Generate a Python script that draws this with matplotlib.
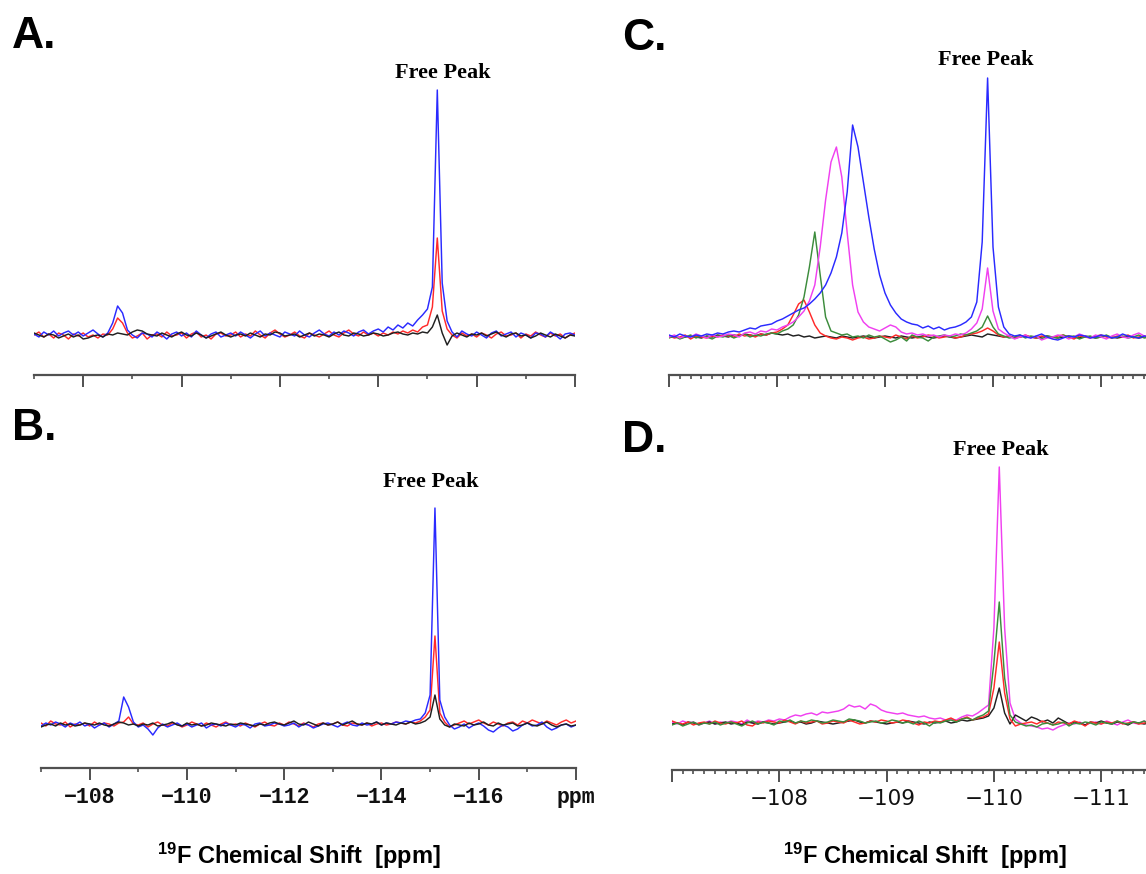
import numpy as np
import matplotlib
matplotlib.use("Agg")
import matplotlib.pyplot as plt
from matplotlib.ticker import MultipleLocator, FixedLocator, FixedFormatter

plt.rcParams['mathtext.fontset'] = 'custom'
plt.rcParams['mathtext.rm'] = 'Liberation Sans:bold'
plt.rcParams['mathtext.it'] = 'Liberation Sans:bold'
plt.rcParams['mathtext.bf'] = 'Liberation Sans:bold'

# Chemical-shift sampling (ppm): panels A/B every 0.1 ppm, panels C/D every 0.05 ppm
ppm_ab = np.round(-107.0 - 0.1 * np.arange(111), 2)
ppm_cd = np.round(-107.0 - 0.05 * np.arange(90), 2)

# ---- Panel A intensities (arbitrary units) ----
a_blue = [1, -2, 3, 0, 4, -1, 2, 4, 0, 3,
          -1, 2, 5, 1, -2, 2, 12, 29, 22, 5,
          0, -3, 2, 1, -2, 3, 0, -4, 1, 3,
          -1, 2, -2, 4, 0, -3, 1, 3, -2, 0,
          2, -1, 3, 0, -3, 1, 4, -1, 2, 0,
          -2, 3, 1, -1, 4, 0, -2, 2, 5, 1,
          -1, 3, 0, 4, 2, -1, 3, 5, 1, 4,
          6, 3, 8, 5, 10, 7, 12, 9, 15, 20,
          26, 48, 245, 52, 14, 3, -2, 4, 1, -1,
          3, 0, -3, 2, 4, -1, 1, 3, -2, 2,
          0, -3, 2, 1, -2, 3, 0, -4, 1, 2, 0]
a_red = [0, 3, -2, 1, -3, 2, 0, -4, 1, -1,
         2, -2, 0, -3, 1, 0, 6, 17, 12, 2,
         -3, -1, 2, -4, 0, 1, -2, 3, -1, 0,
         2, -3, 1, 3, -2, 0, -4, 1, 2, -1,
         0, 3, -2, 1, -1, 4, 0, -3, 2, 5,
         1, -2, 0, 3, -1, -3, 2, 0, -2, 1,
         4, 0, -2, 2, 5, 1, -1, 3, 0, 2,
         -1, 2, 0, 3, 1, 4, 2, 5, 3, 8,
         10, 28, 97, 24, 6, 0, -3, 2, -1, 1,
         -2, 2, 0, -3, 1, 3, -1, 0, 2, -3,
         1, -1, 3, 0, -2, 2, -1, 1, -3, 0, 2]
a_black = [2, 0, -2, 1, 0, -3, -1, 1, -2, 0,
           -4, -3, -1, 0, -2, 1, 0, 2, 1, 0,
           3, 5, 4, 1, 0, -1, 2, 0, -2, 1,
           3, 0, -1, 2, 0, -3, -1, 1, 3, 0,
           -2, 0, 1, -1, 2, 0, -2, 1, 0, 3,
           2, -1, 0, 1, -2, 0, 2, -1, 1, 0,
           -2, 1, 3, 0, -1, 2, 1, -1, 0, 2,
           1, -1, 0, 2, 3, 1, 0, 2, 1, 3,
           2, 8, 20, 2, -10, -1, 2, 0, -2, 1,
           0, 2, -1, 1, 3, 0, -2, 1, 2, -1,
           0, -3, -1, 2, 0, -2, 1, -1, -3, 0, -1]

# ---- Panel B ----
b_blue = [-1, 2, 0, 3, 1, -2, 2, 0, 3, -1,
          1, -3, 0, 2, -2, 1, 4, 28, 18, 3,
          -2, 0, -4, -10, -3, 1, -2, 0, 2, -1,
          1, -2, 0, 2, -3, 0, 1, -1, 2, 0,
          -2, 1, 0, -3, 1, 2, -1, 0, 2, 1,
          -1, 0, 2, -2, 1, 0, -3, -1, 1, 2,
          0, -2, 1, 3, 0, -1, 2, 0, 1, 3,
          0, 2, 1, 3, 2, 4, 3, 5, 6, 12,
          30, 217, 25, 8, 0, -4, -2, 1, -3, 0,
          2, -1, -5, -7, -3, 0, -2, -6, -4, 0,
          2, -1, 0, 3, -2, -5, -3, 0, 1, -2, 0]
b_red = [2, -1, 4, 1, 0, 3, -2, 1, 0, 2,
         -1, 3, 0, 2, 1, -1, 2, 3, 8, 1,
         0, 2, -2, 1, 3, 0, -1, 2, 1, -2,
         0, 3, 1, -1, 2, 0, -2, 1, 3, 0,
         1, -1, 2, 0, -2, 1, 3, 0, -1, 2,
         0, 3, 1, -1, 2, 0, -2, 1, 2, 0,
         1, 3, 0, -1, 2, 1, 0, 2, -1, 1,
         2, 0, 1, 3, 2, 1, 3, 2, 4, 8,
         15, 89, 12, 3, -2, 0, 2, 4, 1, 3,
         5, 2, 0, 3, 1, -1, 2, 3, 0, 4,
         2, 5, 3, 1, 4, 2, 0, 3, 5, 2, 4]
b_black = [-2, 0, 1, -1, 2, 0, 1, -1, 0, 2,
           1, 0, 2, 0, -1, 1, 3, 2, 0, 1,
           -1, 1, 0, 2, -1, 0, 1, 3, 0, -1,
           2, 0, 1, -1, 0, 2, 1, 0, -1, 1,
           0, 2, 1, 0, -1, 1, 0, 2, 3, 1,
           0, 2, 4, 1, 0, 3, 1, -1, 2, 0,
           1, 3, 0, 2, 4, 1, 0, 2, 1, 3,
           0, 2, 1, 0, 2, 1, 3, 1, 2, 4,
           8, 30, 6, 0, -2, 1, 0, -1, 2, 0,
           1, 3, 0, -1, 2, 0, 1, 2, -1, 0,
           2, 0, -1, 1, 3, 0, -2, 0, 1, -1, 0]

# ---- Panel C ----
c_blue = [2, 0, 3, 1, 0, 2, 1, 3, 2, 4,
          3, 5, 6, 5, 7, 9, 8, 11, 12, 13,
          16, 18, 21, 24, 27, 29, 33, 38, 44, 52,
          64, 80, 104, 145, 212, 190, 155, 120, 88, 62,
          44, 32, 24, 18, 15, 13, 12, 9, 11, 8,
          10, 7, 9, 10, 12, 15, 20, 35, 95, 259,
          90, 30, 10, 3, 1, 2, 0, -1, 1, 3,
          0, -2, -3, -1, 1, 0, 2, 1, -1, 0,
          2, 1, -1, 0, 3, 1, 0, -1, 1, 0]
c_magenta = [0, 2, -1, 1, 0, 3, 1, -1, 2, 0,
             1, 3, 2, 0, 4, 5, 3, 6, 5, 8,
             7, 10, 12, 15, 20, 26, 36, 52, 90, 137,
             175, 190, 160, 104, 52, 25, 15, 10, 8, 6,
             9, 12, 10, 5, 3, 4, 2, 3, 1, 2,
             0, 2, 1, 3, 2, 4, 8, 14, 28, 69,
             26, 8, 4, 1, -2, 0, 2, -1, 1, -3,
             -1, 0, 2, 1, -2, 0, 3, 1, -1, 2,
             0, -2, 1, 3, 0, -1, 2, 4, 1, 0]
c_green = [-1, 1, -2, 0, 2, -1, 1, 0, -2, 1,
           0, 2, -1, 1, 3, 0, 2, 1, 3, 4,
           3, 6, 8, 12, 22, 40, 70, 105, 62, 20,
           6, 4, 2, 3, 0, 1, -1, 2, 0, 1,
           -2, -5, -3, 0, -4, 2, 0, -1, -4, 0,
           1, 2, 0, 1, 3, 2, 4, 6, 10, 21,
           10, 3, 1, -1, 0, 2, -1, 1, 0, -2,
           1, 0, -1, 2, 0, 1, -2, 0, 1, -1,
           0, 2, -1, 0, 1, -1, 0, 2, -1, 0]
c_red = [1, -1, 0, 2, -2, 1, 0, -1, 1, 0,
         2, 1, 0, 3, 1, 2, 0, 3, 2, 4,
         5, 8, 12, 22, 33, 37, 25, 12, 4, 1,
         -1, -2, 0, -1, -3, -1, 0, -2, -1, 1,
         0, -1, 2, 0, -2, 1, -1, 0, 2, 1,
         -1, 0, 1, -1, 0, 2, 3, 4, 6, 9,
         6, 2, 0, 1, -1, 0, 2, 0, -1, 1,
         0, -1, 1, 2, 0, -2, 1, 0, -1, 1,
         2, 0, -1, 1, 0, 2, -1, 0, 1, 0]
c_black = [0, 1, -1, 0, 1, 0, -1, 1, 0, 2,
           1, 0, 2, 1, 3, 2, 1, 3, 2, 4,
           3, 2, 3, 1, 2, 0, 1, -1, 0, 1,
           0, -1, 1, 0, -1, 0, 1, 0, -1, 0,
           1, 0, -1, 1, 0, -1, 0, 1, 0, -1,
           0, 1, 0, -1, 0, 1, 2, 1, 0, 3,
           2, 1, 0, 1, -1, 0, 1, 0, -1, 0,
           1, 0, -1, 0, 1, 0, -1, 1, 0, -1,
           0, 1, 0, -1, 0, 1, 0, -1, 0, 1]

# ---- Panel D ----
d_magenta = [1, -1, 2, 0, 1, -2, 0, 2, -1, 1,
             0, 2, 1, -1, 3, 0, 2, 1, 3, 2,
             4, 3, 6, 8, 7, 9, 10, 8, 11, 10,
             11, 12, 14, 18, 16, 17, 14, 19, 17, 13,
             11, 10, 9, 10, 8, 7, 6, 7, 5, 4,
             5, 3, 4, 3, 6, 8, 7, 10, 14, 18,
             95, 256, 95, 20, 4, 0, -2, -3, -4, -6,
             -5, -7, -4, -2, 0, -1, 1, -2, 0, 1,
             -1, 2, 0, -2, 1, 3, 0, -1, 2, 0]
d_green = [-2, 0, -3, -1, 1, -2, 0, -1, 1, -2,
           0, 1, -1, -3, 0, 2, -1, 1, 0, -2,
           2, 1, 3, 0, 2, 1, 3, 2, 0, 1,
           3, 2, 1, 4, 3, 2, 0, 1, 2, 0,
           1, 3, 2, 0, 1, -1, 2, 0, -3, 1,
           0, 2, 3, 1, 4, 5, 3, 6, 8, 12,
           60, 121, 45, 8, 1, -1, -3, -2, -4, -1,
           0, -2, -1, 1, -3, 0, -1, 1, 0, -2,
           1, 0, -1, 2, 0, -1, 1, 0, 2, -1]
d_red = [2, 0, -1, 1, -2, 0, 1, -1, 2, 0,
         -1, 1, 0, 2, -2, -3, 1, 0, 2, 1,
         0, 3, 1, -1, 2, 0, 1, 2, -1, 0,
         2, 1, 0, 3, 1, -1, 0, 2, 1, 3,
         2, 0, 1, 3, 2, 0, -2, 1, 0, 2,
         1, 3, 5, 2, 4, 6, 3, 5, 6, 9,
         35, 81, 30, 4, -3, -1, 0, 1, -1, 2,
         0, -2, 1, 0, -1, 2, 0, -3, 1, 0,
         -1, 1, 0, 2, -1, 0, 1, -1, 0, 1]
d_black = [-1, 0, -2, 1, 0, -1, 0, 1, -1, 0,
           1, -1, 0, -2, 1, 0, -1, 1, 0, -1,
           0, 1, 2, 0, 1, -1, 0, 2, 1, 0,
           -1, 0, 1, 2, 3, 1, 0, 2, 1, 0,
           -1, 0, 1, 0, 2, 1, 0, -1, 1, 0,
           1, 2, 0, 1, 3, 2, 3, 4, 5, 7,
           15, 35, 10, -1, 8, 5, 2, 6, 4, 1,
           3, 0, 5, 2, -1, 1, 0, -2, 1, 0,
           2, 0, -1, 1, 0, -2, 1, 0, -1, 0]

ab_major = [-108, -110, -112, -114, -116, -118]
ab_minor = [-107, -109, -111, -113, -115, -117]
b_ticklabels = ['\u2212108', '\u2212110', '\u2212112', '\u2212114', '\u2212116', 'ppm']
cd_major = [-107, -108, -109, -110, -111]
d_ticklabels = ['', '\u2212108', '\u2212109', '\u2212110', '\u2212111']

COL = {'blue': '#2a2aff', 'red': '#ff2a2a', 'black': '#202020',
       'green': '#3c8c3c', 'magenta': '#f040f0'}

W, H = 1146, 874
fig = plt.figure(figsize=(W / 100, H / 100), dpi=100)
fig.patch.set_facecolor('white')


def panel(left, right, spine_y, top_y, xlim, ylim):
    ax = fig.add_axes([left / W, 1 - spine_y / H, (right - left) / W, (spine_y - top_y) / H])
    ax.patch.set_alpha(0)
    for s in ('top', 'left', 'right'):
        ax.spines[s].set_visible(False)
    ax.spines['bottom'].set_color('#505050')
    ax.spines['bottom'].set_linewidth(1.6)
    ax.set_yticks([])
    ax.set_xlim(*xlim)
    ax.set_ylim(*ylim)
    ax.tick_params(axis='x', which='major', direction='out', length=8.5, width=1.4, color='#505050')
    ax.tick_params(axis='x', which='minor', direction='out', length=3, width=1.2, color='#505050')
    return ax


lw = 1.05

# A
axA = panel(34, 575, 375, 60, (-107, -118), (-40, 275))
axA.xaxis.set_major_locator(FixedLocator(ab_major))
axA.xaxis.set_minor_locator(FixedLocator(ab_minor))
axA.set_xticklabels([])
axA.plot(ppm_ab, a_red, color=COL['red'], lw=lw)
axA.plot(ppm_ab, a_blue, color=COL['blue'], lw=lw)
axA.plot(ppm_ab, a_black, color=COL['black'], lw=lw)

# B
axB = panel(41, 576, 768, 460, (-107, -118), (-43, 265))
axB.xaxis.set_major_locator(FixedLocator(ab_major))
axB.xaxis.set_minor_locator(FixedLocator(ab_minor))
axB.xaxis.set_major_formatter(FixedFormatter(b_ticklabels))
axB.tick_params(axis='x', which='major', pad=5, labelsize=15.5, labelcolor='#111111')
for t in axB.get_xticklabels():
    t.set_fontfamily('Liberation Mono')
    t.set_fontweight('bold')
axB.plot(ppm_ab, b_red, color=COL['red'], lw=lw)
axB.plot(ppm_ab, b_blue, color=COL['blue'], lw=lw)
axB.plot(ppm_ab, b_black, color=COL['black'], lw=lw)

# C
axC = panel(669, 1146, 375, 60, (-107, -111.4167), (-38, 277))
axC.xaxis.set_major_locator(FixedLocator(cd_major))
axC.xaxis.set_minor_locator(MultipleLocator(0.1))
axC.set_xticklabels([])
axC.plot(ppm_cd, c_black, color=COL['black'], lw=lw)
axC.plot(ppm_cd, c_red, color=COL['red'], lw=lw)
axC.plot(ppm_cd, c_green, color=COL['green'], lw=lw)
axC.plot(ppm_cd, c_magenta, color=COL['magenta'], lw=lw)
axC.plot(ppm_cd, c_blue, color=COL['blue'], lw=lw)

# D
axD = panel(672, 1146, 770, 460, (-107, -111.4175), (-47, 263))
axD.xaxis.set_major_locator(FixedLocator(cd_major))
axD.xaxis.set_minor_locator(MultipleLocator(0.1))
axD.xaxis.set_major_formatter(FixedFormatter(d_ticklabels))
axD.tick_params(axis='x', which='major', pad=5, labelsize=15.5, labelcolor='#111111')
for t in axD.get_xticklabels():
    t.set_fontfamily('DejaVu Sans')
axD.plot(ppm_cd, d_magenta, color=COL['magenta'], lw=lw)
axD.plot(ppm_cd, d_black, color=COL['black'], lw=lw)
axD.plot(ppm_cd, d_red, color=COL['red'], lw=lw)
axD.plot(ppm_cd, d_green, color=COL['green'], lw=lw)

# Panel letters
for label, x, y in (('A.', 12, 48), ('B.', 12, 440), ('C.', 622, 50), ('D.', 622, 452)):
    fig.text(x / W, 1 - y / H, label, fontsize=32, fontweight='bold',
             family='Liberation Sans', va='baseline', ha='left')

# "Free Peak" annotations
for x, y in ((443, 73), (431, 482), (986, 60), (1001, 450)):
    fig.text(x / W, 1 - y / H, 'Free Peak', fontsize=16, fontweight='bold',
             family='Liberation Serif', ha='center', va='center')

# Axis titles
for x in (299, 925):
    fig.text(x / W, 1 - 856 / H, r'$^{19}$F Chemical Shift  [ppm]', fontsize=17,
             fontweight='bold', family='Liberation Sans', ha='center', va='center')

fig.savefig('out.png', dpi=100, facecolor='white')
